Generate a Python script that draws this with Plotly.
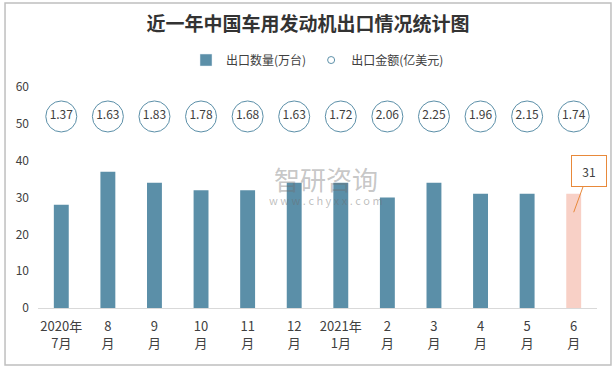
import plotly.graph_objects as go

categories = ["2020年<br>7月", "8<br>月", "9<br>月", "10<br>月", "11<br>月", "12<br>月",
              "2021年<br>1月", "2<br>月", "3<br>月", "4<br>月", "5<br>月", "6<br>月"]
export_qty = [28, 37, 34, 32, 32, 34, 34, 30, 34, 31, 31, 31]
export_value = [1.37, 1.63, 1.83, 1.78, 1.68, 1.63, 1.72, 2.06, 2.25, 1.96, 2.15, 1.74]
circle_row_y = [52] * len(categories)

BLUE = "#5B8FA8"
PINK = "#F8D0C6"
TXT = "#404040"
FONT = "Noto Sans CJK SC"

bar_colors = [BLUE] * (len(categories) - 1) + [PINK]

fig = go.Figure()
fig.add_trace(go.Bar(
    x=categories, y=export_qty, name="出口数量(万台)",
    marker=dict(color=bar_colors, line=dict(width=0)),
    showlegend=False,
))
# legend proxies
fig.add_trace(go.Bar(x=[categories[0]], y=[None], name="出口数量(万台)",
                     marker=dict(color=BLUE), showlegend=True))
fig.add_trace(go.Scatter(x=[categories[0]], y=[None], name="出口金额(亿美元)", mode="markers",
                         marker=dict(symbol="circle-open", size=7, color=BLUE, line=dict(width=1)),
                         showlegend=True))
fig.add_trace(go.Scatter(
    x=categories, y=circle_row_y, mode="markers+text",
    text=[f"{v:.2f}" for v in export_value], textposition="middle center",
    textfont=dict(size=12, color=TXT, family=FONT),
    marker=dict(symbol="circle", size=31, color="white", line=dict(color=BLUE, width=1)),
    showlegend=False, cliponaxis=False,
))

fig.add_annotation(x=categories[-1], y=26, text="31", showarrow=True, arrowhead=0,
                   arrowcolor="#E8893A", arrowwidth=1, ax=15, ay=-41,
                   width=30, height=26,
                   bordercolor="#E8893A", borderwidth=1, borderpad=2, bgcolor="white",
                   font=dict(size=12, color=TXT, family=FONT))

# watermark
fig.add_annotation(xref="paper", yref="paper", x=0.515, y=0.588, text="智研咨询", showarrow=False,
                   font=dict(size=26, color="rgba(110,110,110,0.4)", family=FONT))
fig.add_annotation(xref="paper", yref="paper", x=0.515, y=0.49, text="w w w . c h y x x . c o m", showarrow=False,
                   font=dict(size=11, color="rgba(110,110,110,0.45)", family=FONT))

# outer border
fig.add_shape(type="rect", xref="paper", yref="paper", x0=-0.059, x1=1.025, y0=-0.258, y1=1.38,
              line=dict(color="#BFBFBF", width=1.5), fillcolor="rgba(0,0,0,0)", layer="below")

fig.update_layout(
    width=616, height=369,
    margin=dict(l=38, r=19, t=87, b=61, autoexpand=False),
    paper_bgcolor="white", plot_bgcolor="white",
    barmode="overlay",
    bargap=0.68,
    title=dict(text="<b>近一年中国车用发动机出口情况统计图</b>", x=0.5, xanchor="center",
               y=0.935, yanchor="middle", font=dict(size=19, color="#333333", family=FONT)),
    legend=dict(orientation="h", x=0.5, xanchor="center", y=1.122, yanchor="middle",
                font=dict(size=12, color=TXT, family=FONT), itemwidth=30),
    font=dict(family=FONT, color=TXT),
)
fig.update_xaxes(range=[-0.5, len(categories) - 0.5], showline=True, linecolor="#D9D9D9", linewidth=1,
                 ticks="", tickfont=dict(size=13, color=TXT, family=FONT), showgrid=False,
                 automargin=False, ticklabelstandoff=6)
fig.update_yaxes(range=[0, 60], dtick=10, showgrid=False, zeroline=False, showline=False,
                 tickfont=dict(size=12, color=TXT, family=FONT), ticklabelstandoff=8, automargin=False)

fig.write_html("out.html", config={"displayModeBar": False},
               post_script="document.body.style.margin='0';")
